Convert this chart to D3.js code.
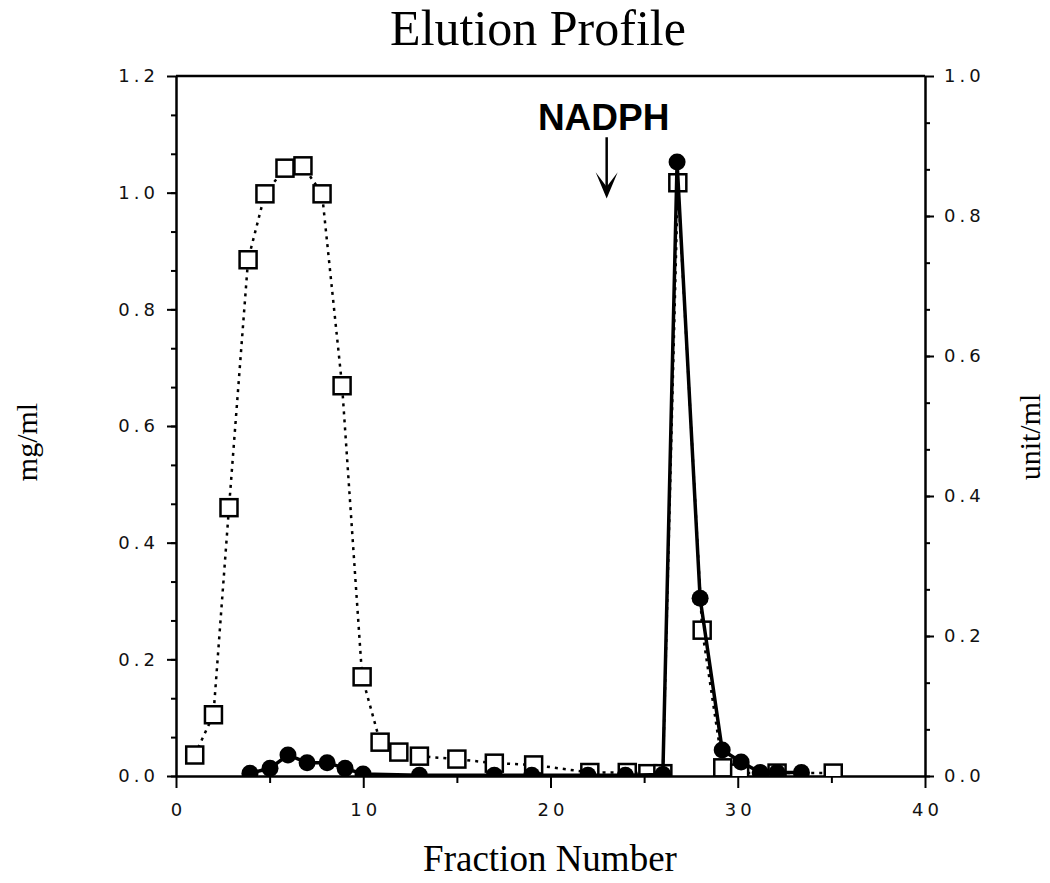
<!DOCTYPE html>
<html>
<head>
<meta charset="utf-8">
<script src="https://cdn.jsdelivr.net/npm/d3@7"></script>
<style>
  body { margin: 0; background: #fff; }
  .tick text { font-family: "DejaVu Sans", sans-serif; font-size: 18px; letter-spacing: 4px; fill: #111; }
  .domain { stroke: #000; stroke-width: 2.5px; }
  .tick line { stroke: #000; stroke-width: 2px; }
</style>
</head>
<body>
<svg id="chart" width="1050" height="883"></svg>
<script>
// protein (open squares, mg/ml, left axis)
const protein_fraction = [1.0, 2.0, 2.83, 3.85, 4.75, 5.82, 6.78, 7.8, 8.87, 9.94, 10.9, 11.9, 13.0, 15.0, 17.0, 19.1, 22.1, 24.1, 25.2, 26.0, 26.8, 28.1, 29.2, 30.1, 32.1, 35.1];
const protein_mgml = [0.036, 0.105, 0.46, 0.885, 0.998, 1.042, 1.046, 0.998, 0.669, 0.17, 0.058, 0.041, 0.034, 0.029, 0.022, 0.019, 0.006, 0.006, 0.004, 0.004, 1.017, 0.25, 0.014, 0.005, 0.005, 0.005];
// activity (filled circles, unit/ml, right axis)
const activity_fraction = [3.95, 5.02, 5.98, 7.0, 8.07, 9.03, 9.99, 13.0, 17.0, 19.0, 22.0, 24.0, 26.0, 26.76, 27.99, 29.17, 30.18, 31.2, 32.1, 33.4];
const activity_unitml = [0.004, 0.011, 0.03, 0.019, 0.019, 0.011, 0.003, 0.001, 0.001, 0.001, 0.001, 0.001, 0.002, 0.877, 0.254, 0.037, 0.02, 0.005, 0.005, 0.005];

const x_ticks = [0, 10, 20, 30, 40];
const left_ticks = [0, 0.2, 0.4, 0.6, 0.8, 1.0, 1.2];
const right_ticks = [0, 0.2, 0.4, 0.6, 0.8, 1.0];
const nadph_fraction = 23;

const svg = d3.select('#chart');
const plot_left = 176, plot_right = 925, plot_top = 76, plot_bottom = 776;

const x = d3.scaleLinear().domain([0, 40]).range([plot_left, plot_right]);
const yL = d3.scaleLinear().domain([0, 1.2]).range([plot_bottom, plot_top]);
const yR = d3.scaleLinear().domain([0, 1.0]).range([plot_bottom, plot_top]);

// title and axis titles
svg.append('text').attr('x', 538).attr('y', 45).attr('text-anchor', 'middle')
  .style('font-family', '"Liberation Serif", serif').style('font-size', '50px')
  .text('Elution Profile');
svg.append('text').attr('x', 550).attr('y', 871).attr('text-anchor', 'middle')
  .style('font-family', '"Liberation Serif", serif').style('font-size', '37px')
  .text('Fraction Number');
svg.append('text').attr('transform', 'translate(37,442) rotate(-90)').attr('text-anchor', 'middle')
  .style('font-family', '"Liberation Serif", serif').style('font-size', '30px')
  .text('mg/ml');
svg.append('text').attr('transform', 'translate(1040,437) rotate(-90)').attr('text-anchor', 'middle')
  .style('font-family', '"Liberation Serif", serif').style('font-size', '30px')
  .text('unit/ml');

// frame top line
svg.append('line').attr('x1', plot_left).attr('x2', plot_right).attr('y1', plot_top).attr('y2', plot_top)
  .attr('stroke', '#000').attr('stroke-width', 2.5);

// minor ticks
svg.append('g').attr('transform', 'translate(0,' + plot_bottom + ')')
  .call(d3.axisBottom(x).tickValues(d3.range(5, 40, 10)).tickSize(7).tickFormat(''))
  .select('.domain').remove();
svg.append('g').attr('transform', 'translate(' + plot_left + ',0)')
  .call(d3.axisLeft(yL).tickValues(d3.range(0, 18).map(function(i) { return i * 0.2 / 3; })).tickSize(5).tickFormat(''))
  .select('.domain').remove();
svg.append('g').attr('transform', 'translate(' + plot_right + ',0)')
  .call(d3.axisRight(yR).tickValues(d3.range(0, 15).map(function(i) { return i * 0.2 / 3; })).tickSize(5).tickFormat(''))
  .select('.domain').remove();

// main axes
svg.append('g').attr('transform', 'translate(0,' + plot_bottom + ')')
  .call(d3.axisBottom(x).tickValues(x_ticks).tickSize(12).tickSizeOuter(0).tickPadding(15).tickFormat(d3.format('d')))
  .selectAll('.tick text').attr('dx', 2);
svg.append('g').attr('transform', 'translate(' + plot_left + ',0)')
  .call(d3.axisLeft(yL).tickValues(left_ticks).tickSize(9).tickSizeOuter(0).tickPadding(8).tickFormat(d3.format('.1f')));
svg.append('g').attr('transform', 'translate(' + plot_right + ',0)')
  .call(d3.axisRight(yR).tickValues(right_ticks).tickSize(9).tickSizeOuter(0).tickPadding(10).tickFormat(d3.format('.1f')));

// clip data at the x axis
svg.append('clipPath').attr('id', 'plot_clip').append('rect')
  .attr('x', 0).attr('y', 0).attr('width', 1050).attr('height', plot_bottom);
const plot = svg.append('g').attr('clip-path', 'url(#plot_clip)');

const protein_pts = protein_fraction.map(function(f, i) { return [x(f), yL(protein_mgml[i])]; });
const activity_pts = activity_fraction.map(function(f, i) { return [x(f), yR(activity_unitml[i])]; });

plot.append('path').attr('d', d3.line()(protein_pts))
  .attr('fill', 'none').attr('stroke', '#000').attr('stroke-width', 2.5).attr('stroke-dasharray', '3,5');

const sq = 17;
plot.selectAll('rect.protein').data(protein_pts).enter().append('rect').attr('class', 'protein')
  .attr('x', function(d) { return d[0] - sq / 2; })
  .attr('y', function(d) { return d[1] - sq / 2; })
  .attr('width', sq).attr('height', sq)
  .attr('fill', '#fff').attr('stroke', '#000').attr('stroke-width', 2.5);

plot.append('path').attr('d', d3.line()(activity_pts))
  .attr('fill', 'none').attr('stroke', '#000').attr('stroke-width', 3.5);

plot.selectAll('circle.activity').data(activity_pts).enter().append('circle').attr('class', 'activity')
  .attr('cx', function(d) { return d[0]; })
  .attr('cy', function(d) { return d[1]; })
  .attr('r', 8.5).attr('fill', '#000');

// NADPH annotation
svg.append('text').attr('x', x(nadph_fraction) - 3).attr('y', yL(1.108)).attr('text-anchor', 'middle')
  .style('font-family', '"Liberation Sans", Arial, sans-serif').style('font-weight', 'bold').style('font-size', '37px')
  .text('NADPH');
svg.append('line').attr('x1', x(nadph_fraction)).attr('x2', x(nadph_fraction))
  .attr('y1', yL(1.095)).attr('y2', yL(1.0)).attr('stroke', '#000').attr('stroke-width', 2.5);
svg.append('path')
  .attr('d', d3.line()([[x(nadph_fraction) - 11, yL(1.035)], [x(nadph_fraction), yL(0.99)], [x(nadph_fraction) + 11, yL(1.035)], [x(nadph_fraction), yL(1.01)]]) + 'Z')
  .attr('fill', '#000');
</script>
</body>
</html>
